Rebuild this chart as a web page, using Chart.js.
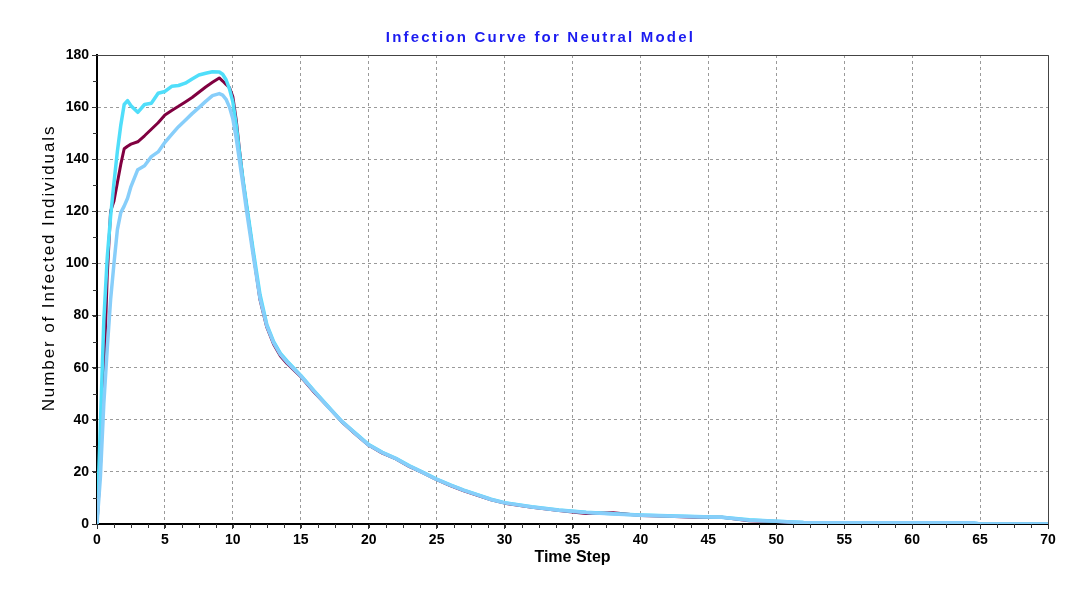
<!DOCTYPE html>
<html>
<head>
<meta charset="utf-8">
<script src="https://cdn.jsdelivr.net/npm/chart.js@4"></script>
<style>
  html, body { margin: 0; padding: 0; background: #fff; }
  #wrap { width: 1079px; height: 590px; }
</style>
</head>
<body>
<div id="wrap"><canvas id="infection-chart" width="1079" height="590"></canvas></div>
<script>
// time steps the curves were sampled at
const timeSteps = [0, 0.25, 0.5, 0.75, 1, 1.25, 1.5, 1.75, 2, 2.25, 2.5, 3, 3.5, 4, 4.5, 5, 5.5, 6, 6.5, 7, 7.5, 8, 8.5, 9, 9.25, 9.5, 9.75, 10, 10.25, 10.5, 10.75, 11, 11.5, 12, 12.5, 13, 13.5, 14, 15, 16, 17, 18, 19, 20, 21, 22, 23, 24, 25, 26, 27, 28, 29, 30, 32, 34, 36, 38, 40, 42, 44, 46, 48, 50, 52, 55, 60, 64.5, 65, 70]

const runMaroon = [0, 22, 55, 95, 120, 124, 131, 138, 144, 145, 145.8, 146.7, 149, 151.5, 154, 157, 158.7, 160.3, 162, 163.7, 165.7, 167.7, 169.5, 171.2, 170, 168.7, 167.5, 164, 155, 143, 132, 122.5, 104, 86, 75.5, 69, 64.5, 61.5, 56.5, 50.5, 45, 39.3, 34.6, 30.2, 27.2, 25, 22, 19.6, 17, 14.7, 12.7, 11, 9.3, 8, 6.4, 5.2, 4, 4.3, 3.3, 3, 2.6, 2.6, 1.2, 1, 0, 0, 0.4, 0, 0, 0]

const runCyan = [0, 38, 78, 102, 118, 131, 143, 153, 161, 162.5, 160.5, 158, 161, 161.5, 165.3, 166, 168, 168.3, 169.2, 170.8, 172.3, 173, 173.6, 173.5, 172.6, 170.5, 167, 162, 153, 142, 132, 123, 105, 88, 76.5, 70, 65.5, 62.5, 57, 51, 45.2, 39.5, 35, 30.5, 27.5, 25.2, 22.3, 19.8, 17.2, 15, 13, 11.3, 9.5, 8.2, 6.6, 5.4, 4.5, 3.9, 3.5, 3.2, 2.9, 2.6, 1.6, 1.1, 0.6, 0.5, 0.5, 0.4, 0, 0]

const runLightBlue = [0, 18, 46, 67, 86, 100, 113, 119.5, 122, 125, 129.5, 136, 137.5, 141, 142.8, 146.5, 149.5, 152.5, 155, 157.5, 159.8, 162.2, 164.4, 165.2, 164.6, 163, 160, 155.5, 148, 139, 130, 120.5, 103, 86.5, 76, 69.5, 65, 62, 56.8, 50.8, 45, 39.5, 34.8, 30.3, 27.4, 25.1, 22.2, 19.7, 17.1, 14.9, 12.9, 11.2, 9.4, 8.1, 6.5, 5.3, 4.4, 3.8, 3.4, 3.1, 2.8, 2.6, 1.4, 1.1, 0.6, 0.5, 0.5, 0.5, 0, 0]

const chartTitle = 'Infection Curve for Neutral Model'
const xTitle = 'Time Step'
const yTitle = 'Number of Infected Individuals'

const toPoints = values => values.map((v, i) => ({ x: timeSteps[i], y: v }))

const FONT = '"Liberation Sans", Arial, sans-serif'

// small tick marks between the labelled ones + the thin top/right frame
const frameAndMinorTicks = {
    id: 'frameAndMinorTicks',
    beforeDatasetsDraw(chart) {
        const { ctx, chartArea, scales: { x, y } } = chart
        ctx.save()
        ctx.strokeStyle = '#333'
        ctx.lineWidth = 1
        ctx.beginPath()
        for (let v = 0; v <= 70; v += 1.25) {
            const px = Math.round(x.getPixelForValue(v)) + 0.5
            ctx.moveTo(px, chartArea.bottom)
            ctx.lineTo(px, chartArea.bottom + 4)
        }
        for (let v = 0; v <= 180; v += 10) {
            const py = Math.round(y.getPixelForValue(v)) + 0.5
            ctx.moveTo(chartArea.left, py)
            ctx.lineTo(chartArea.left - 4, py)
        }
        ctx.stroke()
        ctx.strokeStyle = '#444'
        ctx.beginPath()
        ctx.moveTo(chartArea.left, chartArea.top + 0.5)
        ctx.lineTo(chartArea.right + 0.5, chartArea.top + 0.5)
        ctx.lineTo(chartArea.right + 0.5, chartArea.bottom)
        ctx.stroke()
        ctx.restore()
    }
}

// chart title and y title drawn by hand so they can get the wide letter spacing
const spacedTitles = {
    id: 'spacedTitles',
    afterDraw(chart) {
        const { ctx, width } = chart
        ctx.save()
        ctx.textAlign = 'center'
        ctx.textBaseline = 'middle'

        ctx.font = 'bold 15px ' + FONT
        ctx.fillStyle = '#1c1cf0'
        ctx.letterSpacing = '2.2px'
        ctx.fillText(chartTitle, width / 2 + 1, 38)

        ctx.font = '17px ' + FONT
        ctx.fillStyle = '#000'
        ctx.letterSpacing = '1.9px'
        ctx.translate(49, 268)
        ctx.rotate(-Math.PI / 2)
        ctx.fillText(yTitle, 0, 0)
        ctx.restore()
    }
}

const ctx = document.getElementById('infection-chart').getContext('2d')

new Chart(ctx, {
    type: 'line',
    data: {
        datasets: [
            {
                label: 'Run 3',
                data: toPoints(runLightBlue),
                borderColor: 'rgb(135, 206, 250)',
                borderWidth: 3.5
            },
            {
                label: 'Run 2',
                data: toPoints(runCyan),
                borderColor: 'rgb(80, 222, 250)',
                borderWidth: 3.5
            },
            {
                label: 'Run 1',
                data: toPoints(runMaroon),
                borderColor: 'rgb(128, 0, 64)',
                borderWidth: 3
            }
        ]
    },
    options: {
        responsive: false,
        animation: false,
        layout: { padding: { top: 55, right: 31, left: 0, bottom: 0 } },
        elements: {
            point: { radius: 0 },
            line: { tension: 0, borderJoinStyle: 'round' }
        },
        plugins: {
            legend: { display: false },
            title: { display: false },
            tooltip: { enabled: false }
        },
        scales: {
            x: {
                type: 'linear',
                min: 0,
                max: 70,
                afterFit: s => { s.height = 66 },
                ticks: {
                    stepSize: 5,
                    maxRotation: 0,
                    autoSkip: false,
                    padding: 3,
                    color: '#000',
                    font: { family: FONT, size: 14, weight: 'bold' }
                },
                grid: { color: '#9a9a9a', tickColor: '#333', tickLength: 5 },
                border: { color: '#000', width: 2, dash: [3, 3] },
                title: {
                    display: true,
                    text: xTitle,
                    color: '#000',
                    padding: { top: 0, bottom: 23 },
                    font: { family: FONT, size: 16, weight: 'bold' }
                }
            },
            y: {
                min: 0,
                max: 180,
                afterFit: s => { s.width = 97 },
                ticks: {
                    stepSize: 20,
                    padding: 3,
                    color: '#000',
                    font: { family: FONT, size: 14, weight: 'bold' }
                },
                grid: { color: '#9a9a9a', tickColor: '#333', tickLength: 5 },
                border: { color: '#000', width: 2, dash: [3, 3] }
            }
        }
    },
    plugins: [frameAndMinorTicks, spacedTitles]
})
</script>
</body>
</html>
